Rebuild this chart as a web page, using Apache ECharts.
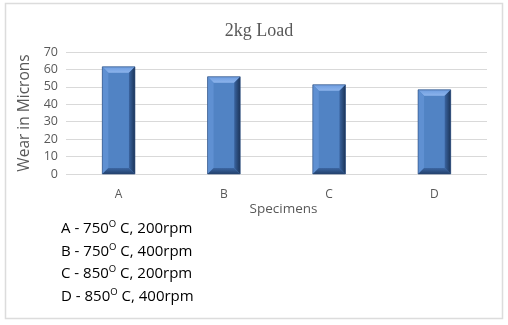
<!DOCTYPE html>
<html><head><meta charset="utf-8">
<script src="https://cdn.jsdelivr.net/npm/echarts@6/dist/echarts.min.js"></script>
<style>html,body{margin:0;padding:0;background:#fff}#c{width:508px;height:325px}</style>
</head><body><div id="c"></div>
<script>
const categories = ['A', 'B', 'C', 'D'];
const wear = [61.5, 55.8, 51.2, 48.3];
const yTicks = [0, 10, 20, 30, 40, 50, 60, 70];
const notes = [
  ['A - 750', 'O', ' C, 200rpm'],
  ['B - 750', 'O', ' C, 400rpm'],
  ['C - 850', 'O', ' C, 200rpm'],
  ['D - 850', 'O', ' C, 400rpm']
];

const chart = echarts.init(document.getElementById('c'));
const bev = 6;
function renderBar(params, api) {
  const x = api.value(0), v = api.value(1);
  const top = api.coord([x, v]);
  const base = api.coord([x, 0]);
  const bw = api.size([1, 0])[0] * 0.31;
  const l = top[0] - bw / 2, r = top[0] + bw / 2, t = top[1], b = base[1];
  return {
    type: 'group',
    children: [
      {type: 'rect', shape: {x: l, y: t, width: bw, height: b - t}, style: {fill: '#5183c4'}},
      {type: 'polygon', shape: {points: [[l, t], [r, t], [r - bev, t + bev], [l + bev, t + bev]]},
        style: {fill: new echarts.graphic.LinearGradient(0, 0, 0, 1, [{offset: 0, color: '#6e9de0'}, {offset: 1, color: '#8db4ec'}])}},
      {type: 'polygon', shape: {points: [[l, t], [l + bev, t + bev], [l + bev, b - bev], [l, b]]},
        style: {fill: '#5f90d2'}},
      {type: 'polygon', shape: {points: [[r, t], [r, b], [r - bev, b - bev], [r - bev, t + bev]]},
        style: {fill: new echarts.graphic.LinearGradient(0, 0, 1, 0, [{offset: 0, color: '#3a64a0'}, {offset: 1, color: '#1c3559'}])}},
      {type: 'polygon', shape: {points: [[l, b], [r, b], [r - bev, b - bev], [l + bev, b - bev]]},
        style: {fill: new echarts.graphic.LinearGradient(0, 0, 0, 1, [{offset: 0, color: '#3d67a3'}, {offset: 1, color: '#22406b'}])}},
      {type: 'rect', shape: {x: l, y: t, width: bw, height: b - t}, style: {fill: 'none', stroke: '#2b4a78', lineWidth: 0.6}}
    ]
  };
}

const noteGraphics = notes.map((n, i) => ({
  type: 'text', left: 61, top: 219 + i * 22.8,
  style: {
    text: '{a|' + n[0] + '}{s|' + n[1] + '}{a|' + n[2] + '}',
    rich: {
      a: {fontFamily: 'Open Sans, sans-serif', fontSize: 15, fill: '#000', verticalAlign: 'bottom'},
      s: {fontFamily: 'Open Sans, sans-serif', fontSize: 9.5, fill: '#000', verticalAlign: 'top', padding: [0, 0, 7, 0]}
    }
  }
}));

chart.setOption({
  animation: false,
  title: {text: '2kg Load', left: 254, top: 17, textAlign: 'center',
    textStyle: {fontFamily: 'Liberation Serif, serif', fontWeight: 'normal', fontSize: 18, color: '#595959'}},
  grid: {left: 66, right: 21, top: 52, bottom: 151},
  xAxis: {type: 'category', data: categories,
    axisLine: {show: false}, axisTick: {show: false},
    axisLabel: {color: '#595959', fontSize: 12, fontFamily: 'Open Sans, sans-serif', margin: 15},
    name: 'Specimens', nameLocation: 'middle', nameGap: 28,
    nameTextStyle: {color: '#595959', fontSize: 13.5, fontFamily: 'Open Sans, sans-serif', padding: [0, 0, 0, 14]}},
  yAxis: {type: 'value', min: 0, max: 70, interval: 10,
    axisLine: {show: false}, axisTick: {show: false},
    axisLabel: {color: '#595959', fontSize: 12.5, fontFamily: 'Open Sans, sans-serif', margin: 8},
    splitLine: {lineStyle: {color: '#d9d9d9', width: 1}},
    name: 'Wear in Microns', nameLocation: 'middle', nameGap: 31, nameRotate: 90,
    nameTextStyle: {color: '#595959', fontSize: 15.5, fontFamily: 'Open Sans, sans-serif'}},
  series: [{type: 'custom', renderItem: renderBar,
    data: categories.map((c, i) => [i, wear[i]]), encode: {x: 0, y: 1}}],
  graphic: [
    {type: 'rect', shape: {x: 5.5, y: 3.5, width: 497, height: 315}, style: {fill: 'none', stroke: '#dcdcdc', lineWidth: 1.5}, z: -1}
  ].concat(noteGraphics)
});
</script></body></html>
